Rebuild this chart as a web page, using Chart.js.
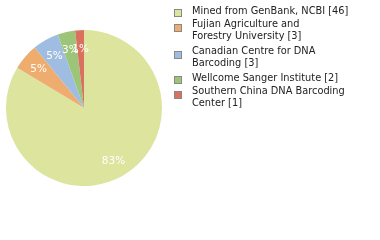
<!DOCTYPE html>
<html>
<head>
<meta charset="utf-8">
<script src="https://cdn.jsdelivr.net/npm/chart.js@4"></script>
<style>
  html, body { margin: 0; padding: 0; background: #fff; }
  #wrap { width: 380px; height: 240px; position: relative; }
</style>
</head>
<body>
<div id="wrap"><canvas id="pie"></canvas></div>
<script>
// Données
const categories = [
  ['Mined from GenBank, NCBI [46]'],
  ['Fujian Agriculture and', 'Forestry University [3]'],
  ['Canadian Centre for DNA', 'Barcoding [3]'],
  ['Wellcome Sanger Institute [2]'],
  ['Southern China DNA Barcoding', 'Center [1]']
];
const counts = [46, 3, 3, 2, 1];
const colors = ['#dde49e', '#eeac6e', '#9fbde0', '#9dc57a', '#dc705f'];

// Pourcentages dans les parts (arrondi vers le bas)
const pctLabels = {
  id: 'pctLabels',
  afterDatasetsDraw(chart) {
    const ctx = chart.ctx;
    const meta = chart.getDatasetMeta(0);
    const total = counts.reduce((a, b) => a + b, 0);
    ctx.save();
    ctx.font = '10.5px "DejaVu Sans", sans-serif';
    ctx.fillStyle = '#fff';
    ctx.textAlign = 'center';
    ctx.textBaseline = 'middle';
    meta.data.forEach((arc, i) => {
      const mid = (arc.startAngle + arc.endAngle) / 2;
      const r = arc.outerRadius * 0.77;
      const txt = Math.floor(counts[i] / total * 100) + '%';
      ctx.fillText(txt, arc.x + Math.cos(mid) * r, arc.y + Math.sin(mid) * r + 1);
    });
    ctx.restore();
  }
};

// Légende à droite, dessinée à la main
const sideLegend = {
  id: 'sideLegend',
  afterDraw(chart) {
    const ctx = chart.ctx;
    const lineH = 12.3;
    let y = 7;
    ctx.save();
    ctx.font = '9.8px "DejaVu Sans", sans-serif';
    ctx.textBaseline = 'top';
    categories.forEach((lines, i) => {
      const h = lines.length * lineH;
      const boxY = Math.round(y + 5.3 + (lines.length - 1) * 2.7 - 3.5);
      ctx.fillStyle = colors[i];
      ctx.fillRect(174.5, boxY + 0.5, 7, 7);
      ctx.strokeStyle = '#888';
      ctx.lineWidth = 1;
      ctx.strokeRect(174.5, boxY + 0.5, 7, 7);
      ctx.fillStyle = '#222';
      lines.forEach((t, k) => ctx.fillText(t, 192, y + k * lineH));
      y += h + (lines.length - 1) * 2.7;
    });
    ctx.restore();
  }
};

new Chart(document.getElementById('pie'), {
  type: 'pie',
  data: {
    labels: categories,
    datasets: [{
      data: counts,
      backgroundColor: colors,
      borderWidth: 0
    }]
  },
  options: {
    responsive: true,
    maintainAspectRatio: false,
    animation: false,
    layout: { padding: { left: 6, top: 30, right: 218, bottom: 54 } },
    plugins: {
      legend: { display: false },
      tooltip: { enabled: false }
    }
  },
  plugins: [pctLabels, sideLegend]
});
</script>
</body>
</html>
